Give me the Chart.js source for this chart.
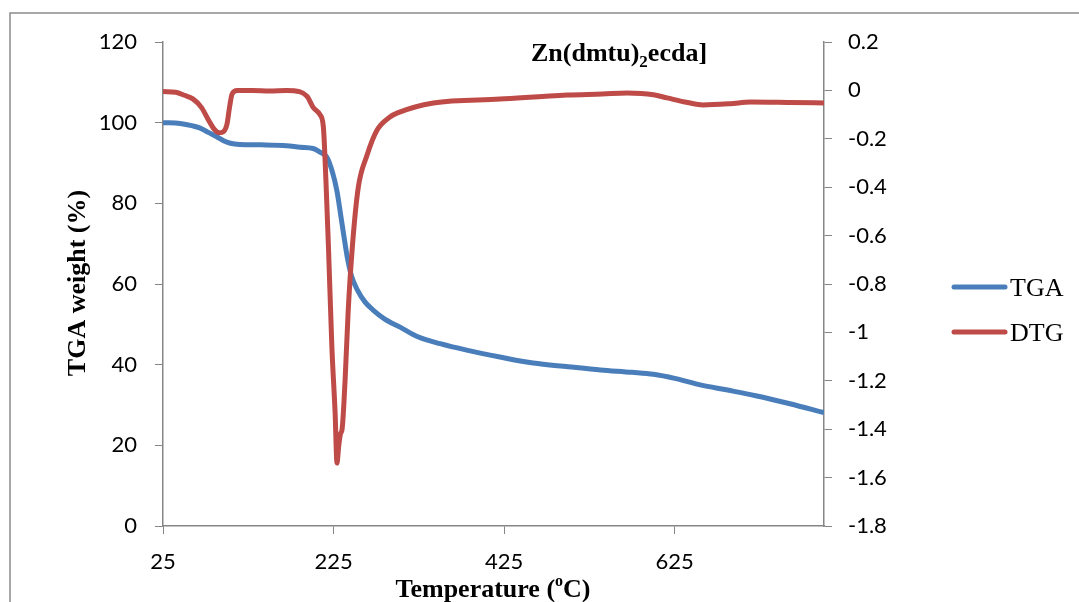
<!DOCTYPE html>
<html>
<head>
<meta charset="utf-8">
<script src="https://cdn.jsdelivr.net/npm/chart.js@4"></script>
<style>
  body { margin: 0; background: #fff; }
  #wrap { width: 1079px; height: 602px; }
</style>
</head>
<body>
<div id="wrap"><canvas id="tga" width="1079" height="602"></canvas></div>
<script>
// TGA curve: temperature (°C) and remaining weight (%)
const tgaTemp = [25, 45, 60, 68, 78, 88, 96, 104, 115, 140, 170, 186, 201, 209, 217, 224, 229, 233, 237, 241,
  246, 253, 262, 271, 285, 303, 323, 350, 381, 420, 459, 500, 538, 575, 600, 625, 655, 687, 720, 760, 800];
const tgaWeight = [100, 99.8, 99.2, 98.7, 97.6, 96.5, 95.5, 94.9, 94.6, 94.5, 94.3, 93.9, 93.6, 92.7, 91.5, 87.5,
  83, 77.6, 72, 66.7, 62, 58.5, 55.5, 53.6, 51.3, 49.3, 47, 45.2, 43.6, 41.9, 40.4, 39.5, 38.7, 38.1, 37.6, 36.6,
  35, 33.7, 32.3, 30.3, 28.1];

// DTG curve: temperature (°C) and derivative weight
const dtgTemp = [25, 40, 50, 60, 70, 78, 85, 91, 96, 100, 103, 106, 112, 130, 150, 170, 185, 194, 201, 209, 213,
  216, 219, 223, 226.8, 229, 231, 233, 235, 238.5, 242, 247, 254, 264, 276, 291, 300, 342, 420, 499, 540, 569,
  600, 616, 640, 658, 690, 714, 760, 800];
const dtgRate = [-0.005, -0.008, -0.02, -0.035, -0.07, -0.12, -0.16, -0.175, -0.17, -0.14, -0.07, -0.015, 0.0, 0.0,
  -0.002, 0.0, -0.005, -0.025, -0.07, -0.1, -0.15, -0.37, -0.647, -1.06, -1.333, -1.54, -1.47, -1.42, -1.40,
  -1.197, -0.92, -0.647, -0.4, -0.27, -0.164, -0.11, -0.093, -0.052, -0.036, -0.019, -0.015, -0.011, -0.018,
  -0.031, -0.05, -0.06, -0.055, -0.048, -0.05, -0.052];

const tempTicks = [25, 225, 425, 625];
const weightTicks = [0, 20, 40, 60, 80, 100, 120];
const dtgTicks = [0.2, 0, -0.2, -0.4, -0.6, -0.8, -1, -1.2, -1.4, -1.6, -1.8];

const BLUE = '#4a7ebb';
const RED = '#be4b48';
const AXIS = '#868686';
const tickFont = { family: 'Lato', size: 22 };

function toPoints(xs, ys) {
  return xs.map((x, i) => ({ x: x, y: ys[i] }));
}

// titles, frame and legend drawn on top of the chart
const decorations = {
  id: 'decorations',
  afterDraw(chart) {
    const ctx = chart.ctx;
    ctx.save();
    // outer frame
    ctx.strokeStyle = '#8c8c8c';
    ctx.lineWidth = 1.5;
    ctx.beginPath();
    ctx.moveTo(10, 610);
    ctx.lineTo(10, 13);
    ctx.lineTo(1090, 13);
    ctx.stroke();

    ctx.fillStyle = '#000';
    ctx.textBaseline = 'alphabetic';

    // compound label with subscript
    ctx.font = 'bold 26px "Liberation Serif"';
    let x = 531;
    ctx.fillText('Zn(dmtu)', x, 61);
    x += ctx.measureText('Zn(dmtu)').width;
    ctx.font = 'bold 17px "Liberation Serif"';
    ctx.fillText('2', x, 67);
    x += ctx.measureText('2').width;
    ctx.font = 'bold 26px "Liberation Serif"';
    ctx.fillText('ecda]', x, 61);

    // x axis title with superscript o
    const a = 'Temperature (', b = 'o', c = 'C)';
    ctx.font = 'bold 26px "Liberation Serif"';
    const wa = ctx.measureText(a).width, wc = ctx.measureText(c).width;
    ctx.font = 'bold 16px "Liberation Serif"';
    const wb = ctx.measureText(b).width;
    let tx = 493 - (wa + wb + wc) / 2;
    ctx.font = 'bold 26px "Liberation Serif"';
    ctx.fillText(a, tx, 597);
    tx += wa;
    ctx.font = 'bold 16px "Liberation Serif"';
    ctx.fillText(b, tx, 586);
    tx += wb;
    ctx.font = 'bold 26px "Liberation Serif"';
    ctx.fillText(c, tx, 597);

    // y axis title
    ctx.save();
    ctx.translate(85, 283);
    ctx.rotate(-Math.PI / 2);
    ctx.textAlign = 'center';
    ctx.fillText('TGA weight (%)', 0, 0);
    ctx.restore();

    // legend
    const items = [['TGA', BLUE, 287], ['DTG', RED, 332]];
    ctx.lineCap = 'round';
    ctx.lineWidth = 5;
    ctx.font = '26px "Liberation Serif"';
    items.forEach(([label, color, y]) => {
      ctx.strokeStyle = color;
      ctx.beginPath();
      ctx.moveTo(954, y);
      ctx.lineTo(1005, y);
      ctx.stroke();
      ctx.fillText(label, 1010, y + 9);
    });
    ctx.restore();
  }
};

const chart = new Chart(document.getElementById('tga'), {
  type: 'line',
  data: {
    datasets: [
      {
        label: 'TGA',
        data: toPoints(tgaTemp, tgaWeight),
        yAxisID: 'yW',
        borderColor: BLUE,
        borderWidth: 5,
        pointRadius: 0,
        cubicInterpolationMode: 'monotone',
        order: 2
      },
      {
        label: 'DTG',
        data: toPoints(dtgTemp, dtgRate),
        yAxisID: 'yD',
        borderColor: RED,
        borderWidth: 5,
        pointRadius: 0,
        cubicInterpolationMode: 'monotone',
        order: 1
      }
    ]
  },
  options: {
    responsive: false,
    animation: false,
    layout: { padding: { top: 42, left: 0, right: 0, bottom: 0 } },
    plugins: { legend: { display: false }, tooltip: { enabled: false } },
    scales: {
      x: {
        type: 'linear',
        min: 25,
        max: 800,
        afterBuildTicks: (s) => { s.ticks = tempTicks.map((v) => ({ value: v })); },
        afterFit: (s) => { s.height = 76; },
        ticks: { font: tickFont, color: '#000', padding: 15, maxRotation: 0, callback: (v) => String(v) },
        grid: { drawOnChartArea: false, tickLength: 8, color: AXIS },
        border: { color: AXIS, width: 1.5 }
      },
      yW: {
        position: 'left',
        min: 0,
        max: 120,
        afterBuildTicks: (s) => { s.ticks = weightTicks.map((v) => ({ value: v })); },
        afterFit: (s) => { s.width = 163; },
        ticks: { font: tickFont, color: '#000', padding: 18, callback: (v) => String(v) },
        grid: { drawOnChartArea: false, tickLength: 8, color: AXIS },
        border: { color: AXIS, width: 1.5 }
      },
      yD: {
        position: 'right',
        min: -1.8,
        max: 0.2,
        afterBuildTicks: (s) => { s.ticks = dtgTicks.map((v) => ({ value: v })); },
        afterFit: (s) => { s.width = 255; },
        ticks: { font: tickFont, color: '#000', padding: 16, callback: (v) => String(+v.toFixed(1)) },
        grid: { drawOnChartArea: false, tickLength: 8, color: AXIS },
        border: { color: AXIS, width: 1.5 }
      }
    }
  },
  plugins: [decorations]
});
</script>
</body>
</html>
